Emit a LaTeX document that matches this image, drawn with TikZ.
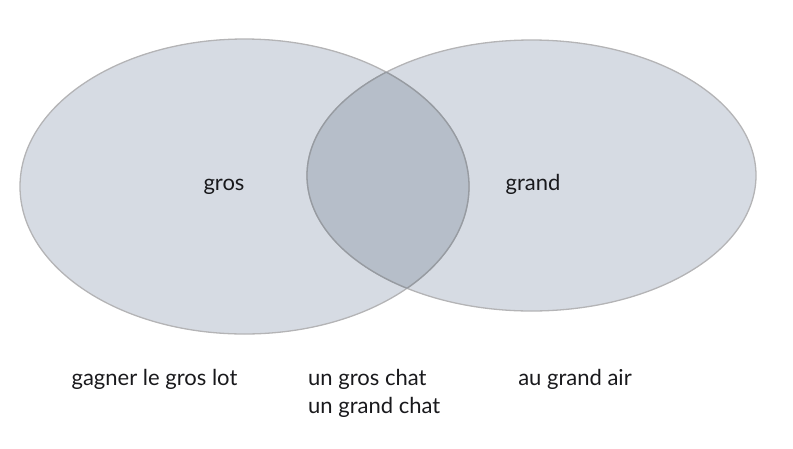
\documentclass[tikz,border=0pt]{standalone}
\usepackage{fontspec}
\setmainfont{Lato}
\definecolor{setfill}{RGB}{214,219,227}
\definecolor{bothfill}{RGB}{182,190,201}
\definecolor{rimcol}{RGB}{180,180,182}
\definecolor{innerrim}{RGB}{150,155,162}
\definecolor{txt}{RGB}{25,25,28}
\begin{document}
\begin{tikzpicture}[x=1pt,y=-1pt,
  lbl/.style={font=\fontsize{22}{26}\selectfont, text=txt, inner sep=0pt, anchor=base},
  rim/.style={draw=rimcol, line width=1.3pt}]
\useasboundingbox (0,0) rectangle (793,448);
\def\LE{(244.5,186.5) ellipse [x radius=224.5pt, y radius=147.5pt]}
\def\RE{(531.5,175.5) ellipse [x radius=224.5pt, y radius=135.5pt]}
\fill[setfill] \LE;
\fill[setfill] \RE;
\begin{scope}
  \clip \LE;
  \fill[bothfill] \RE;
\end{scope}
\draw[rim] \LE;
\draw[rim] \RE;
\begin{scope}
  \clip \LE;
  \draw[draw=innerrim, line width=1.3pt] \RE;
\end{scope}
\begin{scope}
  \clip \RE;
  \draw[draw=innerrim, line width=1.3pt] \LE;
\end{scope}
\node[lbl] (gros) at (224,190) {gros};
\node[lbl] (grand) at (533,190) {grand};
\node[lbl] (lot) at (154.5,385) {gagner le gros lot};
\node[lbl, anchor=base west] (chat1) at (308,385) {un gros chat};
\node[lbl, anchor=base west] (chat2) at (308,413) {un grand chat};
\node[lbl] (air) at (575,385) {au grand air};
\end{tikzpicture}
\end{document}
